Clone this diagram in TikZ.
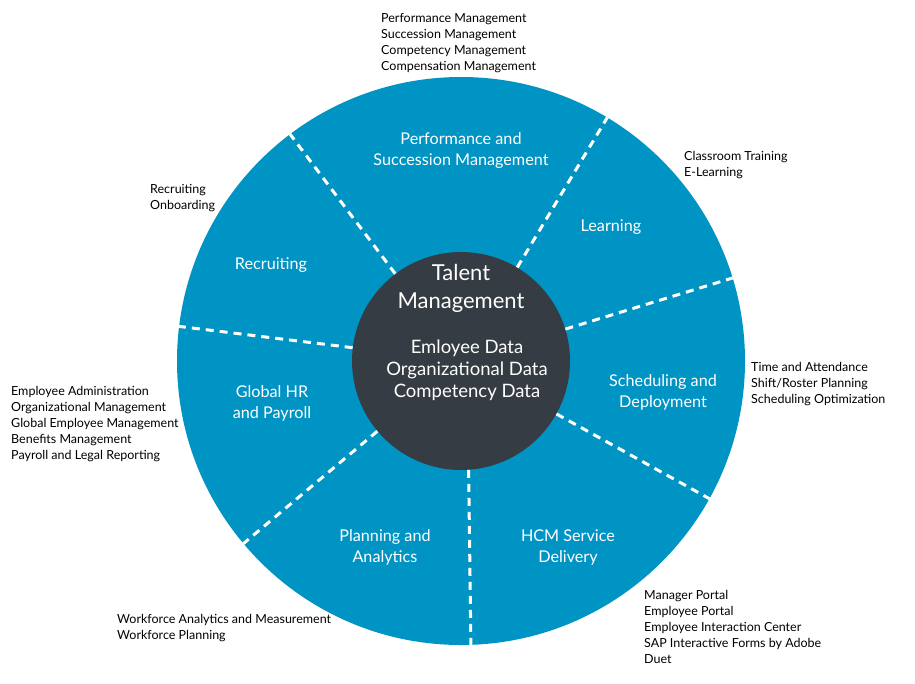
\documentclass[tikz,border=0pt]{standalone}
\usepackage{fontspec}
\setmainfont{Lato}
\definecolor{ringblue}{RGB}{0,148,196}
\definecolor{hubgray}{RGB}{54,60,67}
\begin{document}
\begin{tikzpicture}[x=1pt,y=-1pt,
  sep/.style={draw=white, line width=3pt, dash pattern=on 8pt off 6pt},
  seglabel/.style={text=white, font=\fontsize{16.2}{21}\selectfont, align=center, inner sep=0pt},
  note/.style={anchor=north west, align=left, font=\fontsize{12.5}{16}\selectfont, inner sep=0pt}]
\useasboundingbox (0,0) rectangle (915,683);
\fill[white] (0,0) rectangle (915,683);
\node[circle, fill=ringblue, minimum size=568pt, inner sep=0pt] (ring) at (461,361) {};
\node[circle, fill=hubgray, minimum size=218pt, inner sep=0pt] (hub) at (461,361) {};
% separators
\draw[sep] (hub.127) -- (ring.127);
\draw[sep] (hub.59) -- (ring.59);
\draw[sep] (hub.17) -- (ring.17);
\draw[sep] (hub.-29) -- (ring.-29);
\draw[sep] (hub.-86.3) -- (ring.-88.6);
\draw[sep] (hub.220) -- (ring.220);
\draw[sep] (hub.173) -- (ring.173);
% hub text
\node[text=white, font=\fontsize{22}{28}\selectfont, align=center, inner sep=0pt] (title) at (461,288) {Talent\\Management};
\node[text=white, font=\fontsize{18.5}{22}\selectfont, align=center, inner sep=0pt] (data) at (467,370) {Emloyee Data\\Organizational Data\\Competency Data};
% segment labels
\node[seglabel] (perf) at (461,150.5) {Performance and\\Succession Management};
\node[seglabel] (learn) at (611,227) {Learning};
\node[seglabel] (recr) at (271,265) {Recruiting};
\node[seglabel] (ghr) at (272,403) {Global HR\\and Payroll};
\node[seglabel] (sched) at (663,392.5) {Scheduling and\\Deployment};
\node[seglabel] (plan) at (385,547.5) {Planning and\\Analytics};
\node[seglabel] (hcm) at (568,547.5) {HCM Service\\Delivery};
% notes
\node[note] (n1) at (381,13) {Performance Management\\Succession Management\\Competency Management\\Compensation Management};
\node[note] (n2) at (684,151) {Classroom Training\\E-Learning};
\node[note] (n3) at (150,184) {Recruiting\\Onboarding};
\node[note] (n4) at (751,362) {Time and Attendance\\Shift/Roster Planning\\Scheduling Optimization};
\node[note] (n5) at (11,386) {Employee Administration\\Organizational Management\\Global Employee Management\\Benefits Management\\Payroll and Legal Reporting};
\node[note] (n6) at (117,614) {Workforce Analytics and Measurement\\Workforce Planning};
\node[note] (n7) at (644,590) {Manager Portal\\Employee Portal\\Employee Interaction Center\\SAP Interactive Forms by Adobe\\Duet};
\end{tikzpicture}
\end{document}
